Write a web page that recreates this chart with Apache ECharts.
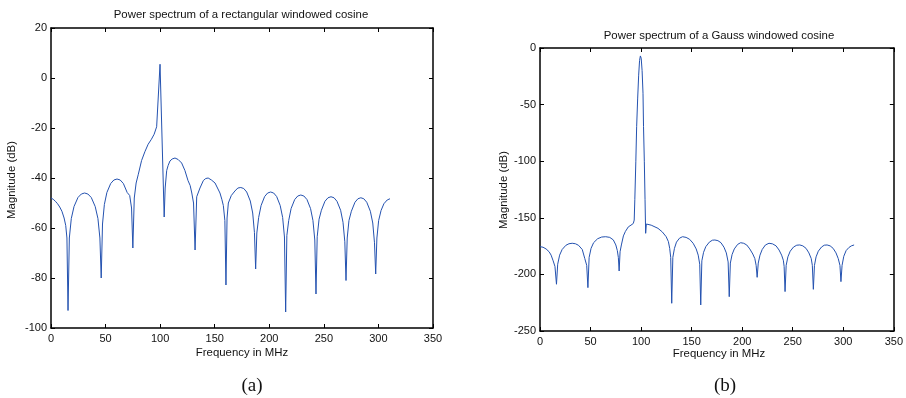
<!DOCTYPE html>
<html>
<head>
<meta charset="utf-8">
<script src="https://cdn.jsdelivr.net/npm/echarts@6/dist/echarts.min.js"></script>
<style>
html,body{margin:0;padding:0;background:#fff;}
#chart{width:906px;height:398px;}
</style>
</head>
<body>
<div id="chart"></div>
<script>
// ---- data (frequency in MHz, magnitude in dB) ----
const freqTicks = [0, 50, 100, 150, 200, 250, 300, 350];
const rectTicks = [20, 0, -20, -40, -60, -80, -100];
const gaussTicks = [0, -50, -100, -150, -200, -250];

const rectSpectrum = [
  [0,-48],[2,-48.5],[4,-49.3],[6,-50.3],[8,-51.6],[10,-53.3],[12,-56],[13.5,-59],[14.6,-64],[15.6,-93],
  [16.8,-64],[18.6,-56.2],[21.1,-51.4],[24.7,-47.8],[27.8,-46.4],[30.8,-46],[33.8,-46.4],[36.9,-47.8],[40.5,-51.4],[43,-56.2],[44.8,-64],[46,-80],
  [47.2,-58.4],[48.9,-50.6],[51.2,-45.8],[54.7,-42.2],[57.6,-40.8],[60.5,-40.4],[63.4,-40.8],[66.3,-42.2],[69.8,-45.8],[72.1,-47],[73.8,-52],[75,-68],
  [76.3,-48],[78,-42],[80,-38.5],[83,-33],[86,-29.5],[89,-26.5],[92,-24.5],[94.5,-22.5],[96.8,-19.5],[99.9,5.5],[103.7,-55.6],
  [104.6,-44],[106,-37],[107.3,-35],[109,-33.2],[111,-32.4],[113.6,-32],[116.5,-32.6],[119.7,-34],[122.7,-37],[125.5,-41],[127.5,-43],[129,-46],[130.6,-50],[132,-68.8],
  [133.5,-47.5],[136.5,-44],[139.6,-41],[141.8,-40.2],[144,-40],[147,-40.8],[150.3,-42],[154.8,-46],[156.5,-48.5],[157.9,-51],[159.3,-57],[160.3,-82.8],
  [161.3,-56],[162.5,-50],[165.2,-47],[168.5,-45.2],[171.2,-44],[173.9,-43.8],[176.6,-44.2],[179.3,-45.6],[182.6,-49.2],[184.8,-54],[186.4,-61.8],[187.5,-76.4],
  [188.6,-62],[190.25,-55.8],[192.5,-51],[195.75,-47.4],[198.5,-46],[201.25,-45.6],[204,-46],[206.75,-47.4],[210,-51],[212.25,-55.8],[213.9,-63.6],[215,-93.6],
  [216.1,-63],[217.8,-57],[220,-52.2],[223.3,-48.6],[226.1,-47.2],[228.9,-46.8],[231.7,-47.2],[234.5,-48.6],[237.8,-52.2],[240,-57],[241.7,-64.8],[242.8,-86.4],
  [243.9,-63.5],[245.6,-56.5],[247.75,-52.9],[251,-49.3],[253.8,-47.9],[256.55,-47.5],[259.3,-47.9],[262,-49.3],[265.35,-52.9],[267.55,-57.7],[269.2,-65.5],[270.3,-81],
  [271.4,-64],[273,-57],[275.2,-53.3],[278.5,-49.7],[281.2,-48.3],[283.9,-47.9],[286.6,-48.3],[289.3,-49.7],[292.6,-53.3],[294.8,-58],[296.4,-65.9],[297.5,-78.4],
  [298.6,-64],[300.2,-57],[302.4,-53],[305,-50.3],[308,-48.8],[310.6,-48.3]
];

const gaussSpectrum = [
  [0,-175.5],[3,-176],[6,-177.5],[9,-180],[11,-183],[13,-188],[14.8,-193],[16.3,-208.7],
  [17.5,-191],[19.4,-183],[21.9,-178],[25.6,-174.3],[28.7,-172.9],[31.85,-172.5],[35,-172.9],[38.1,-174.3],[41.8,-178],[44.3,-186],[46.2,-192],[47.4,-211.7],
  [48.6,-185],[50.5,-177],[53,-172],[57,-168.5],[61,-167],[65,-166.7],[69,-167.3],[72.5,-169.5],[75,-174],[76.5,-179],[77.5,-185],[78.3,-197],
  [79.2,-180],[80.5,-174],[82.5,-166],[84.5,-162],[87.4,-158],[90,-156.5],[92.3,-155],
  [93.2,-152],[93.8,-134],[94.8,-100],[95.6,-69.5],[96.6,-45],[97.6,-24],[98.5,-11],[99.3,-7],[100.1,-9],[101,-20],[101.9,-40],[102.4,-69.5],[103.2,-100],[103.9,-134],[104.5,-163.7],
  [105.2,-155.5],[110,-156.5],[116.7,-159.3],[121,-162.5],[124.8,-166.7],[127,-171],[128.3,-177],[129.3,-185],[130.3,-225.5],
  [131.4,-185],[133,-177],[135,-171.5],[138,-168],[141,-166.7],[144.5,-167.3],[148,-169],[151.5,-172.5],[154.5,-177.5],[156.5,-183],[158,-191],[159,-227],
  [160.1,-188],[161.8,-180.5],[164,-175.5],[167.5,-171.5],[170.5,-169.8],[173,-169.6],[176,-170.2],[179,-172],[182,-176],[184.3,-181],[186.1,-189],[187.2,-219.7],
  [188.3,-190],[190,-182.5],[192.2,-177.5],[195.5,-173.5],[198.5,-172],[201.5,-172.5],[204.5,-174],[207.5,-177.5],[210.5,-182],[212.5,-186],[213.8,-192],[214.8,-202.6],
  [215.9,-190],[217.6,-183],[219.8,-178],[223,-174],[226.5,-172.5],[230,-173],[233.5,-174.8],[236.5,-178.5],[239,-183],[240.7,-187.5],[241.5,-193],[242.4,-215.2],
  [243.5,-192],[245.2,-184.5],[247.5,-179.5],[250.8,-175.8],[254,-174.2],[257,-174],[260,-174.8],[263.2,-177],[266,-181],[268.3,-186],[269.4,-192],[270.4,-213.2],
  [271.5,-192],[273.1,-184.5],[275.3,-179.5],[278.5,-175.8],[281.2,-174.2],[284,-174],[287,-174.8],[290,-177],[292.8,-181],[295,-186],[296.7,-192],[297.7,-206.4],
  [298.8,-192],[300.5,-184],[302.8,-179],[305.5,-176.3],[308,-174.8],[310.7,-174]
];

const titles = ['Power spectrum of a rectangular windowed cosine', 'Power spectrum of a Gauss windowed cosine'];
const xName = 'Frequency in MHz';
const yName = 'Magnitude (dB)';
const panelLabels = ['(a)', '(b)'];

// ---- chart ----
const FONT = '"Liberation Sans", Arial, Helvetica, sans-serif';
const LINE = '#2452b0';
const chart = echarts.init(document.getElementById('chart'), null, {renderer: 'canvas'});

function xAxes(grid, showLabel, pos) {
  return {
    type: 'value', gridIndex: grid, position: pos,
    min: freqTicks[0], max: freqTicks[freqTicks.length - 1], interval: freqTicks[1] - freqTicks[0],
    axisLine: {show: true, onZero: false, lineStyle: {color: '#000', width: 1.5}},
    axisTick: {show: true, inside: true, length: 4, lineStyle: {color: '#000'}},
    axisLabel: {show: showLabel, color: '#111', fontSize: 11, fontFamily: FONT, margin: 5},
    splitLine: {show: false}
  };
}
function yAxes(grid, ticks, showLabel, pos) {
  return {
    type: 'value', gridIndex: grid, position: pos,
    min: ticks[ticks.length - 1], max: ticks[0], interval: ticks[0] - ticks[1],
    axisLine: {show: true, onZero: false, lineStyle: {color: '#000', width: 1.5}},
    axisTick: {show: true, inside: true, length: 4, lineStyle: {color: '#000'}},
    axisLabel: {show: showLabel, color: '#111', fontSize: 11, fontFamily: FONT, margin: 4},
    splitLine: {show: false}
  };
}
function txt(x, y, text, size, family, rot) {
  return {
    type: 'text', x: x, y: y, rotation: rot || 0,
    style: {text: text, fill: '#111', font: size + 'px ' + family, textAlign: 'center', textVerticalAlign: 'middle'}
  };
}

chart.setOption({
  animation: false,
  backgroundColor: '#fff',
  grid: [
    {left: 51, top: 28, width: 382, height: 300},
    {left: 540, top: 48, width: 359, height: 283}
  ],
  xAxis: [xAxes(0, true, 'bottom'), xAxes(0, false, 'top'), xAxes(1, true, 'bottom'), xAxes(1, false, 'top')],
  yAxis: [yAxes(0, rectTicks, true, 'left'), yAxes(0, rectTicks, false, 'right'),
          yAxes(1, gaussTicks, true, 'left'), yAxes(1, gaussTicks, false, 'right')],
  series: [
    {type: 'line', xAxisIndex: 0, yAxisIndex: 0, data: rectSpectrum, symbol: 'none', smooth: false,
     lineStyle: {color: LINE, width: 1}, clip: true},
    {type: 'line', xAxisIndex: 2, yAxisIndex: 2, data: gaussSpectrum, symbol: 'none', smooth: false,
     lineStyle: {color: LINE, width: 1}, clip: true}
  ],
  graphic: [
    txt(241, 15, titles[0], 11.4, FONT),
    txt(719, 36, titles[1], 11.4, FONT),
    txt(242, 353, xName, 11.4, FONT),
    txt(719, 354, xName, 11.4, FONT),
    txt(12, 180, yName, 11.4, FONT, Math.PI / 2),
    txt(504, 190, yName, 11.4, FONT, Math.PI / 2),
    txt(252, 386, panelLabels[0], 19, '"Liberation Serif", "DejaVu Serif", serif'),
    txt(725, 386, panelLabels[1], 19, '"Liberation Serif", "DejaVu Serif", serif')
  ]
});
</script>
</body>
</html>
